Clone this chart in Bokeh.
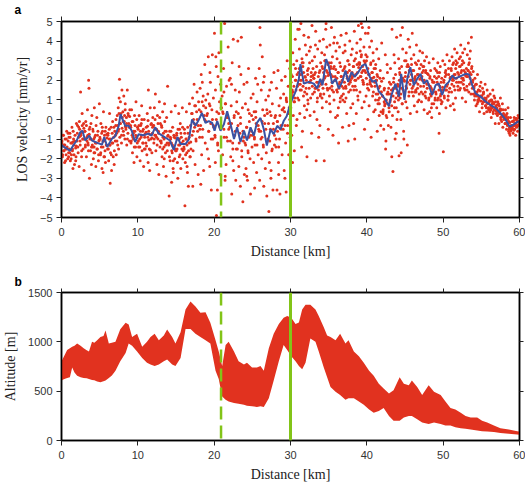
from bokeh.plotting import figure
from bokeh.layouts import column
from bokeh.models import Span, LinearAxis, FixedTicker, ColumnDataSource
from bokeh.embed import file_html
from bokeh.resources import INLINE

# ---------------- data ----------------
dist_ticks = [0, 10, 20, 30, 40, 50, 60]
vel_ticks = [-5, -4, -3, -2, -1, 0, 1, 2, 3, 4, 5]
alt_ticks = [0, 500, 1000, 1500]
fault_dashed_km = 20.9
fault_solid_km = 30.0
panel_labels = ["a", "b"]

# LOS velocity scatter (km, mm/yr) - wide scatter
los_km = [
    0.05,0.12,0.2,0.28,0.33,0.41,0.47,0.55,0.6,0.68,0.74,0.81,0.88,0.93,0.97,0.15,
    1.03,1.1,1.16,1.22,1.3,1.37,1.43,1.5,1.58,1.64,1.7,1.77,1.85,1.9,1.96,1.48,
    2.04,2.1,2.18,2.25,2.31,2.38,2.45,2.5,2.57,2.63,2.7,2.77,2.83,2.9,2.95,2.42,
    3.05,3.12,3.18,3.26,3.32,3.4,3.47,3.55,3.6,3.66,3.72,3.8,3.86,3.92,3.98,3.63,3.5,
    4.04,4.1,4.17,4.23,4.3,4.36,4.44,4.5,4.58,4.63,4.7,4.77,4.84,4.9,4.96,4.27,
    5.03,5.1,5.16,5.22,5.3,5.37,5.42,5.5,5.56,5.63,5.7,5.76,5.82,5.9,5.95,5.45,
    6.04,6.1,6.18,6.25,6.3,6.38,6.42,6.5,6.56,6.62,6.7,6.78,6.83,6.9,6.97,6.35,
    7.04,7.1,7.17,7.22,7.3,7.36,7.43,7.5,7.55,7.6,7.66,7.72,7.8,7.86,7.92,7.97,7.48,
    8.04,8.1,8.16,8.23,8.3,8.35,8.42,8.5,8.55,8.62,8.7,8.76,8.82,8.9,8.95,8.38,
    9.05,9.1,9.18,9.25,9.3,9.36,9.43,9.5,9.57,9.62,9.7,9.76,9.83,9.88,9.95,9.4,
    10.04,10.1,10.17,10.24,10.3,10.37,10.44,10.5,10.56,10.63,10.7,10.76,10.83,10.9,10.96,10.45,
    11.05,11.1,11.18,11.23,11.3,11.38,11.42,11.5,11.55,11.62,11.7,11.77,11.84,11.9,11.96,11.35,
    12.04,12.1,12.17,12.24,12.3,12.36,12.42,12.5,12.57,12.63,12.7,12.75,12.82,12.9,12.95,12.45,
    13.05,13.1,13.17,13.25,13.3,13.36,13.43,13.5,13.56,13.62,13.7,13.77,13.84,13.9,13.96,13.46,
    14.04,14.1,14.16,14.23,14.3,14.37,14.43,14.5,14.56,14.62,14.7,14.76,14.83,14.9,14.95,14.4,14.65,
    15.04,15.1,15.18,15.24,15.3,15.36,15.43,15.5,15.56,15.63,15.7,15.77,15.83,15.9,15.95,15.46,
    16.04,16.1,16.17,16.22,16.3,16.36,16.42,16.5,16.57,16.62,16.7,16.76,16.83,16.9,16.96,16.45,
    17.04,17.1,17.17,17.24,17.3,17.37,17.44,17.5,17.56,17.63,17.7,17.76,17.83,17.9,17.96,17.4,17.2,
    18.04,18.1,18.16,18.23,18.3,18.36,18.42,18.5,18.56,18.62,18.7,18.77,18.83,18.9,18.95,18.45,18.25,
    19.04,19.1,19.17,19.23,19.3,19.36,19.42,19.5,19.56,19.63,19.7,19.76,19.83,19.9,19.96,19.45,19.27,
    20.04,20.1,20.17,20.22,20.3,20.35,20.42,20.5,20.56,20.62,20.7,20.76,20.83,20.9,20.96,20.45,20.27,20.15,
    21.04,21.1,21.17,21.23,21.3,21.37,21.43,21.5,21.56,21.62,21.7,21.76,21.83,21.9,21.96,21.45,21.28,
    22.04,22.1,22.17,22.23,22.3,22.36,22.43,22.5,22.56,22.63,22.7,22.76,22.83,22.9,22.96,22.45,22.27,
    23.04,23.1,23.17,23.23,23.3,23.36,23.43,23.5,23.56,23.62,23.7,23.76,23.83,23.9,23.96,23.45,23.27,
    24.04,24.1,24.17,24.23,24.3,24.36,24.43,24.5,24.56,24.62,24.7,24.76,24.83,24.9,24.96,24.45,24.27,
    25.04,25.1,25.17,25.23,25.3,25.36,25.43,25.5,25.56,25.62,25.7,25.76,25.83,25.9,25.96,25.45,25.27,
    26.04,26.1,26.17,26.23,26.3,26.36,26.43,26.5,26.56,26.62,26.7,26.76,26.83,26.9,26.96,26.45,26.27,26.0,
    27.04,27.1,27.17,27.23,27.3,27.36,27.43,27.5,27.56,27.62,27.7,27.76,27.83,27.9,27.96,27.45,27.27,
    28.04,28.1,28.17,28.23,28.3,28.36,28.43,28.5,28.56,28.62,28.7,28.76,28.83,28.9,28.96,28.45,28.27,
    29.04,29.1,29.17,29.23,29.3,29.36,29.43,29.5,29.56,29.62,29.7,29.76,29.83,29.9,29.96,29.45,29.27,
    30.04,30.1,30.16,30.22,30.3,30.36,30.42,30.5,30.56,30.62,30.7,30.76,30.82,30.9,30.95,30.46,30.27,30.66,30.13,30.85,
    31.04,31.1,31.16,31.22,31.3,31.36,31.42,31.5,31.56,31.62,31.7,31.76,31.82,31.9,31.95,31.46,31.27,31.66,31.13,31.85,
    32.04,32.1,32.16,32.22,32.3,32.36,32.42,32.5,32.56,32.62,32.7,32.76,32.82,32.9,32.95,32.46,32.27,32.66,32.13,32.85,
    33.04,33.1,33.16,33.22,33.3,33.36,33.42,33.5,33.56,33.62,33.7,33.76,33.82,33.9,33.95,33.46,33.27,33.66,33.13,33.85,
    34.04,34.1,34.16,34.22,34.3,34.36,34.42,34.5,34.56,34.62,34.7,34.76,34.82,34.9,34.95,34.46,34.27,34.66,34.13,34.85,
    35.04,35.1,35.16,35.22,35.3,35.36,35.42,35.5,35.56,35.62,35.7,35.76,35.82,35.9,35.95,35.46,35.27,35.66,35.13,35.85,
    36.04,36.1,36.16,36.22,36.3,36.36,36.42,36.5,36.56,36.62,36.7,36.76,36.82,36.9,36.95,36.46,36.27,36.66,36.13,36.85,
    37.04,37.1,37.16,37.22,37.3,37.36,37.42,37.5,37.56,37.62,37.7,37.76,37.82,37.9,37.95,37.46,37.27,37.66,37.13,37.85,
    38.04,38.1,38.16,38.22,38.3,38.36,38.42,38.5,38.56,38.62,38.7,38.76,38.82,38.9,38.95,38.46,38.27,38.66,38.13,38.85,
    39.04,39.1,39.16,39.22,39.3,39.36,39.42,39.5,39.56,39.62,39.7,39.76,39.82,39.9,39.95,39.46,39.27,39.66,39.13,39.85,
    40.04,40.1,40.16,40.22,40.3,40.36,40.42,40.5,40.56,40.62,40.7,40.76,40.82,40.9,40.95,40.46,40.27,40.66,40.13,40.85,
    41.04,41.1,41.16,41.22,41.3,41.36,41.42,41.5,41.56,41.62,41.7,41.76,41.82,41.9,41.95,41.46,41.27,41.66,41.13,41.85,
    42.04,42.1,42.16,42.22,42.3,42.36,42.42,42.5,42.56,42.62,42.7,42.76,42.82,42.9,42.95,42.46,42.27,42.66,42.13,42.85,
    43.04,43.1,43.16,43.22,43.3,43.36,43.42,43.5,43.56,43.62,43.7,43.76,43.82,43.9,43.95,43.46,43.27,43.66,43.13,43.85,
    44.04,44.1,44.16,44.22,44.3,44.36,44.42,44.5,44.56,44.62,44.7,44.76,44.82,44.9,44.95,44.46,44.27,44.66,44.13,44.85,
    45.04,45.1,45.16,45.22,45.3,45.36,45.42,45.5,45.56,45.62,45.7,45.76,45.82,45.9,45.95,45.46,45.27,45.66,45.13,45.85,
    46.04,46.1,46.16,46.22,46.3,46.36,46.42,46.5,46.56,46.62,46.7,46.76,46.82,46.9,46.95,46.46,46.27,46.66,
    47.04,47.1,47.16,47.22,47.3,47.36,47.42,47.5,47.56,47.62,47.7,47.76,47.82,47.9,47.95,47.46,47.27,47.66,
    48.04,48.1,48.16,48.22,48.3,48.36,48.42,48.5,48.56,48.62,48.7,48.76,48.82,48.9,48.95,48.46,48.27,48.66,
    49.04,49.1,49.16,49.22,49.3,49.36,49.42,49.5,49.56,49.62,49.7,49.76,49.82,49.9,49.95,49.46,49.27,49.66,
    50.02,50.1,50.16,50.22,50.3,50.36,50.42,50.5,50.56,50.62,50.7,50.76,50.82,50.9,50.95,50.46,50.27,50.66,
    51.04,51.1,51.16,51.22,51.3,51.36,51.42,51.5,51.56,51.62,51.7,51.76,51.82,51.9,51.95,51.46,51.27,51.66,
    52.04,52.1,52.16,52.22,52.3,52.36,52.42,52.5,52.56,52.62,52.7,52.76,52.82,52.9,52.95,52.46,52.27,52.66,
    53.04,53.1,53.16,53.22,53.3,53.36,53.42,53.5,53.56,53.62,53.7,53.76,53.82,53.9,53.95,53.46,53.27,53.66,
    54.04,54.1,54.16,54.22,54.3,54.36,54.42,54.5,54.56,54.62,54.7,54.76,54.82,54.9,54.95,54.46,54.27,54.66,
    55.04,55.1,55.16,55.22,55.3,55.36,55.42,55.5,55.56,55.62,55.7,55.76,55.82,55.9,55.95,55.46,55.27,55.66,
    56.04,56.1,56.16,56.22,56.3,56.36,56.42,56.5,56.56,56.62,56.7,56.76,56.82,56.9,56.95,56.46,56.27,56.66,
    57.04,57.1,57.16,57.22,57.3,57.36,57.42,57.5,57.56,57.62,57.7,57.76,57.82,57.9,57.95,57.46,57.27,57.66,
    58.04,58.1,58.16,58.22,58.3,58.36,58.42,58.5,58.56,58.62,58.7,58.76,58.82,58.9,58.95,58.46,58.27,58.66,
    59.04,59.1,59.16,59.22,59.3,59.36,59.42,59.5,59.56,59.62,59.7,59.76,59.82,59.9,59.95,59.46,59.27,59.66,
]
los_vel = [
    -1.2,-1.9,-0.8,-1.6,-1.3,-2.2,-1.0,-1.5,-1.8,-0.6,-1.4,-2.0,-1.1,-1.7,-0.9,-1.35,
    -1.5,-0.7,-2.1,-1.2,-1.8,-0.4,-1.6,-2.5,-1.0,-1.3,-2.3,-0.8,-1.45,-1.9,-0.2,-1.15,
    -1.1,-0.3,-1.7,-0.9,-2.4,-0.5,-1.3,1.4,-0.7,-1.9,0.3,-1.0,-1.5,-0.2,-2.6,-0.85,
    -0.6,-1.4,-0.1,-1.9,-0.9,0.5,-1.2,2.0,1.6,-3.0,-0.4,-1.6,-1.0,-2.3,0.2,-0.75,-1.3,
    -1.3,-0.5,-2.0,-1.0,0.6,-1.7,-0.8,-2.4,-1.2,0.1,-1.5,-0.6,-2.1,-1.1,0.8,-1.4,
    -0.9,-1.8,-0.2,-1.4,-2.5,-0.6,-1.1,0.4,-1.9,-0.8,-1.6,-2.2,-0.4,-1.3,-0.95,-2.7,
    -1.5,-0.7,-2.1,-1.0,0.3,-3.25,-1.7,-0.4,-2.6,-1.2,-0.1,-1.9,-0.9,-2.3,-0.6,-1.3,
    -1.1,-0.3,-1.8,-0.7,0.2,-1.3,0.6,-0.5,1.1,2.05,-0.2,0.9,0.3,-0.8,1.5,0.1,-1.5,
    0.4,-0.6,1.2,-0.1,-1.0,0.8,-0.4,0.1,-1.3,1.5,-0.7,0.2,-0.2,-1.1,0.5,-0.35,
    -0.3,-1.2,0.5,-0.8,-1.7,-0.1,-1.0,-2.2,0.2,-0.6,-1.4,0.9,-0.9,-1.9,-0.4,-0.7,
    -0.5,-1.4,0.2,-1.0,-2.1,-0.3,-0.8,0.7,-1.6,-0.6,-1.2,-2.4,0.0,-0.9,-1.5,-0.2,
    -1.2,-0.4,-1.8,0.3,-0.9,1.5,-0.6,-1.5,-2.6,0.6,-1.0,-0.2,-1.7,-0.7,0.1,-2.2,
    -0.3,-1.2,0.6,-0.8,1.3,-1.6,-0.5,-2.3,0.2,-1.0,-0.6,-2.8,0.9,-1.4,-0.2,-0.9,
    -1.1,-0.3,-1.9,0.4,-0.9,-2.4,-1.4,0.8,-0.6,-1.7,-2.9,0.1,-1.2,1.7,-0.8,-2.0,
    -1.3,-3.9,-0.6,-2.1,-1.0,0.4,-3.2,-1.7,-0.4,-2.5,-1.4,-0.9,-2.0,0.7,-1.6,-1.2,-2.7,
    -1.6,-0.7,-2.2,-3.0,-1.0,0.3,-1.9,-1.3,-0.2,-2.5,-0.9,-1.5,0.6,-2.0,-1.1,-0.5,
    -1.4,-0.5,-4.4,-2.2,-1.0,0.4,-1.7,-2.7,-0.7,-3.4,-1.2,0.8,-1.9,-0.3,-1.5,-2.4,
    0.3,-0.8,1.1,-1.6,0.0,1.8,-0.4,-2.3,0.7,-1.1,0.4,1.4,-0.6,-2.8,0.9,-0.2,-3.4,
    0.5,-0.9,1.6,-0.3,2.3,-1.8,0.9,-0.5,1.2,-2.6,0.2,2.8,-1.2,0.6,-0.1,1.9,-3.3,
    0.2,-1.5,1.3,3.2,-0.6,0.8,-2.4,1.9,-0.2,-3.6,0.5,3.3,-1.0,1.1,-0.4,2.4,-2.0,
    4.4,-0.8,1.5,3.2,-4.9,0.4,-3.6,2.2,-1.6,3.4,0.9,-2.8,1.8,-0.3,0.6,-1.2,2.7,-2.2,
    1.2,-1.8,0.3,2.6,-0.9,4.9,-3.1,0.8,-2.3,1.7,0.1,-1.1,3.7,-0.5,2.0,-2.9,1.4,
    -0.4,2.1,-1.9,0.7,-3.8,2.9,-1.2,4.1,-2.6,0.2,-0.8,1.5,-3.1,-1.5,0.9,-2.1,1.8,
    -1.5,4.0,0.3,-2.4,1.4,-0.7,-3.4,2.3,4.2,-1.9,0.6,-4.2,-1.1,1.8,-2.8,-0.2,2.7,
    -1.2,0.8,-2.5,-0.4,1.9,-3.1,-1.6,2.6,-0.9,0.3,-2.0,-3.8,1.1,-0.6,-1.4,0.5,-2.9,
    -0.8,1.3,-2.2,0.4,-3.5,-1.3,2.1,-0.2,-2.7,0.9,1.8,-1.8,-0.5,2.6,-3.1,0.1,-1.0,
    3.8,-0.6,1.5,-2.0,3.2,0.5,-1.3,-3.4,2.2,-0.2,-2.5,1.0,-1.7,-3.9,0.3,1.9,-0.9,4.7,
    -1.0,1.2,-4.7,-2.2,0.4,-0.5,-3.0,1.9,-1.6,0.8,-3.6,-0.2,2.4,-1.3,0.1,-2.6,1.5,
    0.2,-1.4,1.6,-3.6,-0.6,2.5,-2.2,0.7,-1.0,-3.8,1.1,-0.3,2.0,-1.8,0.5,-2.8,-0.1,
    -0.5,1.3,-2.6,0.4,2.2,-1.2,-3.7,0.9,3.0,-0.3,1.7,-1.8,0.6,2.6,-0.9,1.1,-3.0,
    0.6,2.3,-0.8,1.5,3.4,0.2,2.8,-1.6,1.1,4.1,2.0,-0.3,3.0,1.7,4.6,0.9,-2.2,2.6,1.3,0.0,
    2.4,1.0,3.6,0.3,2.0,4.9,1.5,3.1,-0.6,2.7,1.2,4.3,0.7,2.2,3.8,-1.4,1.8,2.9,4.6,0.1,
    1.6,3.3,-1.9,2.5,0.8,4.2,1.9,2.9,0.2,3.7,2.2,-0.7,4.8,1.3,2.6,3.5,1.0,2.0,0.5,3.0,
    2.1,0.4,3.2,1.6,4.5,-2.1,2.7,0.9,3.6,1.9,-0.9,2.4,4.0,1.2,2.9,0.0,3.8,1.5,2.3,-0.3,
    1.8,3.4,0.6,2.6,4.1,1.3,-2.1,3.0,2.2,4.6,0.9,3.7,1.6,2.8,-0.5,3.3,2.0,4.9,1.1,2.4,
    2.9,1.2,3.8,0.4,2.3,4.7,1.7,3.2,-0.8,2.6,1.0,4.2,2.0,0.1,3.5,1.5,2.7,3.9,0.8,2.2,
    1.5,3.1,0.2,2.4,-1.2,1.8,3.7,0.9,2.7,4.3,1.2,2.0,-0.4,3.4,1.6,2.9,0.6,2.2,3.9,1.0,
    2.6,0.9,3.5,1.7,4.4,0.3,2.2,3.0,-1.1,1.4,2.8,4.0,1.9,0.6,3.3,2.4,1.1,-0.3,3.8,2.0,
    2.1,3.6,0.8,2.7,1.5,4.5,-1.0,3.1,2.0,0.3,3.9,2.4,1.2,4.8,2.9,1.7,-0.2,3.4,2.2,1.0,
    2.8,1.4,4.1,2.2,3.3,0.6,4.7,2.5,1.8,3.7,-0.5,2.9,4.4,1.2,3.0,2.0,4.9,0.9,3.5,2.4,
    3.2,1.6,4.4,2.3,0.7,3.7,1.9,2.8,-0.9,4.0,2.1,1.2,3.4,0.4,2.6,1.8,4.7,2.4,0.0,3.0,
    1.9,0.5,2.8,1.3,3.6,-0.6,2.2,1.0,3.1,0.2,1.7,2.5,-0.3,1.4,3.9,0.8,2.0,1.1,2.6,0.4,
    1.2,0.3,2.1,-0.5,1.6,0.8,3.3,-1.1,1.0,0.1,2.4,1.4,-0.3,0.6,1.9,-1.5,0.9,2.8,0.4,1.3,
    0.9,2.6,-0.4,1.5,4.6,0.2,-2.65,1.9,3.3,0.6,-1.0,2.3,1.1,4.2,0.0,1.6,-1.9,2.9,1.3,-0.7,
    1.8,0.4,3.1,-1.85,2.4,1.1,4.3,-1.7,2.7,0.8,3.6,1.5,-0.6,2.0,3.0,0.0,2.6,4.7,1.2,-1.0,
    2.2,0.9,3.4,1.6,-1.3,2.8,4.1,1.2,2.5,3.7,0.3,2.0,3.1,1.4,4.4,2.7,0.6,1.8,3.0,2.3,
    2.5,1.2,3.3,0.7,2.0,2.9,1.5,3.8,0.4,2.3,1.8,3.0,1.0,2.6,3.5,1.4,2.1,0.9,
    1.7,2.8,0.9,2.2,3.4,1.3,2.5,0.5,3.0,1.9,2.4,1.1,3.2,1.6,0.3,2.7,2.0,1.4,
    2.3,1.0,2.9,0.4,1.7,2.5,1.2,0.1,2.0,1.5,3.1,0.8,1.9,2.6,1.1,0.6,2.2,1.4,
    1.4,2.5,0.6,1.9,2.9,1.1,2.2,0.3,1.7,2.7,1.3,0.8,2.1,1.5,3.0,-0.7,2.4,1.0,
    -1.65,2.0,1.1,2.8,1.5,0.6,2.3,3.3,1.8,1.0,2.6,1.4,3.0,2.1,0.7,1.7,2.4,1.2,
    2.6,1.4,3.2,2.0,0.8,2.9,1.7,3.6,2.3,1.1,2.8,1.9,3.4,2.4,1.5,0.5,2.1,3.0,
    2.3,3.1,1.5,2.7,3.8,1.9,2.5,1.1,3.4,2.1,2.9,1.6,3.6,2.4,0.9,2.8,3.2,2.0,
    2.6,1.7,3.3,2.2,3.9,1.4,2.9,2.4,3.5,1.9,4.2,2.7,1.6,2.0,1.3,3.1,2.5,2.3,
    1.6,1.0,2.1,1.3,0.7,1.8,1.2,2.3,0.9,1.5,1.1,0.4,1.7,1.2,1.9,0.8,1.4,1.0,
    1.2,0.6,1.6,0.9,1.4,0.3,1.1,1.8,0.7,1.0,0.4,1.5,0.8,1.2,0.5,0.95,1.3,0.6,
    0.9,0.4,1.3,0.7,0.1,1.0,0.6,1.5,0.3,0.8,0.5,1.1,-0.2,0.7,0.3,0.9,0.5,1.2,
    0.6,0.2,0.9,0.4,-0.2,0.7,0.3,1.1,0.0,0.5,0.2,0.8,-0.4,0.3,0.1,0.55,0.45,-0.1,
    0.2,-0.2,0.5,0.0,-0.5,0.3,-0.3,0.6,-0.6,-0.1,-0.4,-0.8,0.1,-0.5,-0.3,-0.2,0.1,-0.7,
    -0.4,-0.1,-0.7,-0.3,0.1,-0.5,-0.2,-0.8,0.0,-0.4,-0.1,-0.6,0.2,-0.3,-0.1,-0.25,-0.55,0.05,
]

# LOS velocity scatter (km, mm/yr) - dense core close to the running mean
core_km = [
    0.07,0.14,0.26,0.34,0.44,0.53,0.64,0.72,0.86,0.93,
    1.07,1.14,1.26,1.34,1.44,1.53,1.64,1.72,1.86,1.93,
    2.07,2.14,2.26,2.34,2.44,2.53,2.64,2.72,2.86,2.93,
    3.07,3.14,3.26,3.34,3.44,3.53,3.64,3.72,3.86,3.93,
    4.07,4.14,4.26,4.34,4.44,4.53,4.64,4.72,4.86,4.93,
    5.07,5.14,5.26,5.34,5.44,5.53,5.64,5.72,5.86,5.93,
    6.07,6.14,6.26,6.34,6.44,6.53,6.64,6.72,6.86,6.93,
    7.07,7.14,7.26,7.34,7.44,7.53,7.64,7.72,7.86,7.93,
    8.07,8.14,8.26,8.34,8.44,8.53,8.64,8.72,8.86,8.93,
    9.07,9.14,9.26,9.34,9.44,9.53,9.64,9.72,9.86,9.93,
    10.07,10.14,10.26,10.34,10.44,10.53,10.64,10.72,10.86,10.93,
    11.07,11.14,11.26,11.34,11.44,11.53,11.64,11.72,11.86,11.93,
    12.07,12.14,12.26,12.34,12.44,12.53,12.64,12.72,12.86,12.93,
    13.07,13.14,13.26,13.34,13.44,13.53,13.64,13.72,13.86,13.93,
    14.07,14.14,14.26,14.34,14.44,14.53,14.64,14.72,14.86,14.93,
    15.07,15.14,15.26,15.34,15.44,15.53,15.64,15.72,15.86,15.93,
    16.07,16.14,16.26,16.34,16.44,16.53,16.64,16.72,16.86,16.93,
    17.12,17.28,17.45,17.61,17.77,17.9,
    18.12,18.28,18.45,18.61,18.77,18.9,
    19.12,19.28,19.45,19.61,19.77,19.9,
    20.12,20.28,20.45,20.61,20.77,20.9,
    21.12,21.28,21.45,21.61,21.77,21.9,
    22.12,22.28,22.45,22.61,22.77,22.9,
    23.12,23.28,23.45,23.61,23.77,23.9,
    24.12,24.28,24.45,24.61,24.77,24.9,
    25.12,25.28,25.45,25.61,25.77,25.9,
    26.12,26.28,26.45,26.61,26.77,26.9,
    27.12,27.28,27.45,27.61,27.77,27.9,
    28.12,28.28,28.45,28.61,28.77,28.9,
    29.12,29.28,29.45,29.61,29.77,29.9,
    30.07,30.14,30.26,30.34,30.44,30.53,30.64,30.72,30.86,30.93,
    31.07,31.14,31.26,31.34,31.44,31.53,31.64,31.72,31.86,31.93,
    32.07,32.14,32.26,32.34,32.44,32.53,32.64,32.72,32.86,32.93,
    33.07,33.14,33.26,33.34,33.44,33.53,33.64,33.72,33.86,33.93,
    34.07,34.14,34.26,34.34,34.44,34.53,34.64,34.72,34.86,34.93,
    35.07,35.14,35.26,35.34,35.44,35.53,35.64,35.72,35.86,35.93,
    36.07,36.14,36.26,36.34,36.44,36.53,36.64,36.72,36.86,36.93,
    37.07,37.14,37.26,37.34,37.44,37.53,37.64,37.72,37.86,37.93,
    38.07,38.14,38.26,38.34,38.44,38.53,38.64,38.72,38.86,38.93,
    39.07,39.14,39.26,39.34,39.44,39.53,39.64,39.72,39.86,39.93,
    40.07,40.14,40.26,40.34,40.44,40.53,40.64,40.72,40.86,40.93,
    41.07,41.14,41.26,41.34,41.44,41.53,41.64,41.72,41.86,41.93,
    42.07,42.14,42.26,42.34,42.44,42.53,42.64,42.72,42.86,42.93,
    43.07,43.14,43.26,43.34,43.44,43.53,43.64,43.72,43.86,43.93,
    44.07,44.14,44.26,44.34,44.44,44.53,44.64,44.72,44.86,44.93,
    45.07,45.14,45.26,45.34,45.44,45.53,45.64,45.72,45.86,45.93,
    46.07,46.14,46.26,46.34,46.44,46.53,46.64,46.72,46.86,46.93,
    47.07,47.14,47.26,47.34,47.44,47.53,47.64,47.72,47.86,47.93,
    48.07,48.14,48.26,48.34,48.44,48.53,48.64,48.72,48.86,48.93,
    49.07,49.14,49.26,49.34,49.44,49.53,49.64,49.72,49.86,49.93,
    50.07,50.14,50.26,50.34,50.44,50.53,50.64,50.72,50.86,50.93,
    51.07,51.14,51.26,51.34,51.44,51.53,51.64,51.72,51.86,51.93,
    52.07,52.14,52.26,52.34,52.44,52.53,52.64,52.72,52.86,52.93,
    53.07,53.14,53.26,53.34,53.44,53.53,53.64,53.72,53.86,53.93,
    54.07,54.14,54.26,54.34,54.44,54.53,54.64,54.72,54.86,54.93,
    55.07,55.14,55.26,55.34,55.44,55.53,55.64,55.72,55.86,55.93,
    56.07,56.14,56.26,56.34,56.44,56.53,56.64,56.72,56.86,56.93,
    57.07,57.14,57.26,57.34,57.44,57.53,57.64,57.72,57.86,57.93,
    58.07,58.14,58.26,58.34,58.44,58.53,58.64,58.72,58.86,58.93,
    59.07,59.14,59.26,59.34,59.44,59.53,59.64,59.72,59.86,59.93,
]
core_vel = [
    -1.1,-1.8,-0.8,-1.6,-1.3,-2.1,-1.0,-1.5,-0.7,-1.9,
    -1.7,-0.9,-2.0,-1.2,-1.5,-0.6,-1.8,-1.1,-2.1,-1.35,
    -0.7,-1.4,-0.4,-0.1,-1.1,-0.8,-1.6,-0.3,-1.0,-0.45,
    -0.6,-1.3,-0.3,-1.1,-0.8,-1.6,-0.5,-1.0,-0.2,-1.4,
    -1.4,-0.6,-1.7,-0.9,-1.2,-0.3,-1.5,-0.8,-1.8,-1.05,
    -1.0,-1.7,-0.7,-0.4,-1.4,-1.1,-1.9,-0.6,-1.3,-0.75,
    -0.8,-1.5,-0.5,-1.3,-1.0,-1.8,-0.7,-1.2,-0.4,-1.6,
    -0.8,0.0,-1.1,-0.3,-0.6,0.3,-0.9,-0.2,-1.2,-0.45,
    -0.1,-0.8,0.2,0.5,-0.5,-0.2,-1.0,0.3,-0.4,0.15,
    -0.4,-1.1,-0.1,-0.9,-0.6,-1.4,-0.3,-0.8,0.0,-1.2,
    -1.1,-0.3,-1.4,-0.6,-0.9,0.0,-1.2,-0.5,-1.5,-0.75,
    -0.65,-1.35,-0.35,-0.05,-1.05,-0.75,-1.55,-0.25,-0.95,-0.4,
    -0.3,-1.0,0.0,-0.8,-0.5,-1.3,-0.2,-0.7,0.1,-1.1,
    -1.2,-0.4,-1.5,-0.7,-1.0,-0.1,-1.3,-0.6,-1.6,-0.85,
    -1.2,-1.9,-0.9,-0.6,-1.6,-1.3,-2.1,-0.8,-1.5,-0.95,
    -0.8,-1.5,-0.5,-1.3,-1.0,-1.8,-0.7,-1.2,-0.4,-1.6,
    -1.5,-0.7,-1.8,-1.0,-1.3,-0.4,-1.6,-0.9,-1.9,-1.15,
    0.3,-0.6,0.7,-1.0,0.0,-0.3,
    -0.5,0.4,-0.9,0.7,0.0,1.0,
    0.3,-0.6,0.7,-1.0,0.0,-0.3,
    -0.9,0.0,-1.3,0.3,-0.4,0.6,
    0.4,-0.5,0.8,-0.9,0.1,-0.2,
    -1.1,-0.2,-1.5,0.1,-0.6,0.4,
    -0.3,-1.2,0.1,-1.6,-0.6,-0.9,
    -1.3,-0.4,-1.7,-0.1,-0.8,0.2,
    0.0,-0.9,0.4,-1.3,-0.3,-0.6,
    -1.0,-0.1,-1.4,0.2,-0.5,0.5,
    -0.2,-1.1,0.2,-1.5,-0.5,-0.8,
    -1.0,-0.1,-1.4,0.2,-0.5,0.5,
    0.6,-0.3,1.0,-0.7,0.3,0.0,
    1.9,1.2,2.2,1.4,1.7,0.9,2.0,1.5,2.3,1.1,
    1.8,2.6,1.5,2.3,2.0,2.9,1.7,2.4,1.4,2.15,
    2.0,1.3,2.3,2.6,1.6,1.9,1.1,2.4,1.7,2.25,
    2.1,1.4,2.4,1.6,1.9,1.1,2.2,1.7,2.5,1.3,
    1.9,2.7,1.6,2.4,2.1,3.0,1.8,2.5,1.5,2.25,
    2.3,1.6,2.6,2.9,1.9,2.2,1.4,2.7,2.0,2.55,
    2.1,1.4,2.4,1.6,1.9,1.1,2.2,1.7,2.5,1.3,
    1.9,2.7,1.6,2.4,2.1,3.0,1.8,2.5,1.5,2.25,
    2.4,1.7,2.7,3.0,2.0,2.3,1.5,2.8,2.1,2.65,
    2.9,2.2,3.2,2.4,2.7,1.9,3.0,2.5,3.3,2.1,
    1.8,2.6,1.5,2.3,2.0,2.9,1.7,2.4,1.4,2.15,
    1.7,1.0,2.0,2.3,1.3,1.6,0.8,2.1,1.4,1.95,
    1.2,0.5,1.5,0.7,1.0,0.2,1.3,0.8,1.6,0.4,
    1.0,1.8,0.7,1.5,1.2,2.1,0.9,1.6,0.6,1.35,
    1.7,1.0,2.0,2.3,1.3,1.6,0.8,2.1,1.4,1.95,
    2.4,1.7,2.7,1.9,2.2,1.4,2.5,2.0,2.8,1.6,
    1.7,2.5,1.4,2.2,1.9,2.8,1.6,2.3,1.3,2.05,
    2.1,1.4,2.4,2.7,1.7,2.0,1.2,2.5,1.8,2.35,
    1.8,1.1,2.1,1.3,1.6,0.8,1.9,1.4,2.2,1.0,
    1.3,2.1,1.0,1.8,1.5,2.4,1.2,1.9,0.9,1.65,
    1.9,1.2,2.2,2.5,1.5,1.8,1.0,2.3,1.6,2.15,
    2.5,1.8,2.8,2.0,2.3,1.5,2.6,2.1,2.9,1.7,
    1.9,2.7,1.6,2.4,2.1,3.0,1.8,2.5,1.5,2.25,
    2.2,1.5,2.5,2.8,1.8,2.1,1.3,2.6,1.9,2.45,
    1.7,1.2,1.8,1.3,1.4,1.0,1.5,1.15,1.45,0.95,
    1.2,0.8,1.35,0.9,1.0,0.7,1.1,0.85,1.2,0.6,
    0.95,0.55,1.0,0.6,0.8,0.4,0.85,0.5,0.9,0.45,
    0.75,0.35,0.8,0.3,0.45,0.1,0.5,0.15,0.5,0.0,
    0.2,-0.2,0.2,-0.2,0.0,0.1,-0.5,-0.15,-0.6,-0.3,
    -0.1,-0.5,-0.05,-0.3,-0.2,0.05,-0.35,-0.1,-0.25,0.1,
]

# running mean of LOS velocity
mean_km = [0.0,0.3,0.7,1.13,1.57,2.0,2.45,2.75,3.1,3.63,4.0,4.6,5.3,5.6,6.0,6.6,7.0,7.5,7.73,8.0,
           8.35,8.8,9.2,9.65,10.1,10.7,11.4,11.8,12.27,12.7,13.4,13.8,14.2,14.7,15.2,15.6,16.25,16.7,
           17.1,17.56,18.0,18.4,18.86,19.3,19.74,20.05,20.4,20.83,21.27,21.7,22.1,22.6,23.0,23.45,23.9,
           24.3,24.76,25.2,25.6,26.07,26.5,26.9,27.4,27.8,28.26,28.7,29.1,29.5,30.0,30.66,31.1,31.3,
           31.75,32.4,33.05,33.5,33.9,34.2,34.67,35.0,35.46,35.9,36.33,36.77,37.2,37.55,38.0,38.4,38.9,
           39.4,39.83,40.3,40.7,41.14,41.57,42.0,42.45,42.9,43.23,43.75,44.2,44.5,44.93,45.3,45.7,46.15,
           46.6,47.03,47.46,47.9,48.56,49.0,49.43,49.87,50.3,50.74,51.2,51.6,52.05,52.5,52.93,53.4,53.8,
           54.24,54.9,55.55,56.2,56.86,57.5,58.17,58.73,59.25,59.9]
mean_vel = [-1.3,-1.4,-1.48,-1.6,-1.3,-1.07,-0.65,-0.57,-1.07,-0.82,-1.07,-1.18,-1.28,-0.9,-1.4,-0.98,-0.87,-0.32,0.27,0.0,
            -0.32,-0.32,-0.57,-1.15,-0.75,-0.8,-0.72,-0.82,-0.4,-0.7,-0.87,-0.97,-1.07,-1.55,-0.9,-1.25,-1.25,-1.0,
            0.0,-0.32,0.0,0.33,-0.17,-0.08,-0.17,-0.57,-0.08,-0.57,-0.25,0.42,-0.17,-1.0,-0.4,-1.15,-0.57,
            -1.07,-0.4,-0.82,-0.17,0.08,-0.5,-1.33,-0.5,-0.75,-0.32,-0.5,-0.08,0.17,0.83,1.42,2.08,2.83,
            1.83,1.92,1.83,1.58,2.08,1.75,3.08,2.75,1.83,2.08,1.58,1.92,2.5,1.92,2.42,2.17,2.42,
            2.75,2.83,2.25,1.92,2.0,1.42,1.25,1.0,0.67,1.25,1.83,1.17,2.33,1.0,2.08,2.67,1.75,
            2.08,2.33,1.83,2.0,1.25,1.75,1.83,1.25,1.75,1.92,2.25,2.08,2.17,2.25,2.33,2.3,1.75,
            1.33,1.17,0.92,0.75,0.58,0.33,0.0,-0.37,-0.25,-0.08]

# altitude envelope (km, m)
alt_km = [0.0,0.3,0.74,1.1,1.4,1.7,2.05,2.5,2.9,3.3,3.6,4.0,4.3,4.67,5.1,5.5,5.77,6.2,6.6,7.07,7.7,8.4,8.8,
          9.25,9.9,10.57,11.2,11.66,12.2,12.75,13.4,13.84,14.5,14.93,15.6,16.25,16.9,17.55,18.2,18.87,19.5,
          20.18,20.6,21.05,21.5,21.9,22.6,23.2,23.9,24.3,24.96,25.6,26.07,26.5,27.16,27.8,28.47,29.1,29.57,
          30.1,30.66,31.1,31.53,31.97,32.6,33.27,33.7,34.36,34.8,35.24,35.9,36.5,37.2,37.6,38.3,38.96,39.6,
          40.3,40.9,41.57,42.2,42.9,43.5,44.3,44.85,45.5,45.9,46.6,47.25,48.1,48.8,49.67,50.3,50.96,51.6,
          52.3,52.93,53.6,54.46,55.1,55.77,56.65,57.5,58.6,59.7,60.0]
alt_high = [804,850,918,935,951,960,984,960,935,915,902,1000,990,1016,1049,1060,1114,984,990,1000,1127,1193,1176,
            1049,1082,951,1000,1049,1082,1016,1065,1124,1049,984,1098,1327,1408,1359,1294,1300,1193,
            1016,902,755,967,1000,902,804,771,788,739,739,755,706,935,1082,1180,1245,1261,
            1245,1180,1196,1327,1376,1376,1327,1261,1147,1065,1049,1016,1082,984,1016,902,853,788,
            706,657,575,526,477,510,641,575,559,608,543,461,559,494,461,396,330,314,
            281,249,232,232,200,183,151,124,111,95,92]
alt_low = [608,620,634,640,739,690,657,640,634,630,624,614,610,598,591,600,608,634,660,706,804,886,984,
           961,902,837,788,771,755,771,804,820,771,755,837,1131,1131,1082,1049,1016,984,
           706,624,445,412,396,379,373,363,353,347,340,347,340,428,608,804,967,918,
           853,804,755,722,788,1033,1000,902,739,641,543,494,461,412,428,428,396,363,
           314,281,298,330,249,200,200,232,249,249,216,183,167,183,167,151,151,134,
           124,118,111,101,95,92,85,75,69,62,59]

# ---------------- style ----------------
RED = "#e1321f"
BLUE = "#3a52a3"
GREEN = "#82c418"
TICK_FONT = "Liberation Sans"
TITLE_FONT = "Liberation Serif"


def style(p, yticks, ylabel, panel, overrides=None):
    p.grid.visible = False
    p.outline_line_color = "black"
    p.outline_line_width = 1.5
    p.background_fill_color = "white"
    p.border_fill_color = "white"
    for ax in (p.xaxis[0], p.yaxis[0]):
        ax.axis_line_color = "black"
        ax.axis_line_width = 1.5
        ax.major_tick_line_color = "#222"
        ax.major_tick_in = 0
        ax.major_tick_out = 5
        ax.minor_tick_line_color = None
        ax.major_label_text_font = TICK_FONT
        ax.major_label_text_font_size = "11px"
        ax.major_label_text_color = "#333"
        ax.axis_label_text_font = TITLE_FONT
        ax.axis_label_text_font_style = "normal"
        ax.axis_label_text_font_size = "14px"
        ax.axis_label_text_color = "#222"
    p.xaxis[0].ticker = FixedTicker(ticks=dist_ticks)
    p.yaxis[0].ticker = FixedTicker(ticks=yticks)
    p.xaxis[0].axis_label = "Distance [km]"
    p.yaxis[0].axis_label = ylabel
    p.yaxis[0].major_label_standoff = 4
    p.yaxis[0].axis_label_standoff = 7
    if overrides:
        p.yaxis[0].major_label_overrides = overrides
    # mirrored ticks on top / right, without labels
    top = LinearAxis(ticker=FixedTicker(ticks=dist_ticks), major_label_text_color=None,
                     major_label_text_font_size="1px",
                     axis_line_color="black", axis_line_width=1.5, major_tick_in=0, major_tick_out=5,
                     minor_tick_line_color=None, major_tick_line_color="#222", major_label_standoff=0)
    right = LinearAxis(ticker=FixedTicker(ticks=yticks), major_label_text_color=None,
                       major_label_text_font_size="1px",
                       axis_line_color="black", axis_line_width=1.5, major_tick_in=0, major_tick_out=4,
                       minor_tick_line_color=None, major_tick_line_color="#222", major_label_standoff=0)
    p.add_layout(top, "above")
    p.add_layout(right, "right")
    # panel letter as the (outermost) title
    p.title.text = panel
    p.title.align = "left"
    p.title.offset = -47
    p.title.standoff = 0
    p.title.text_font = TICK_FONT
    p.title.text_font_style = "bold"
    p.title.text_font_size = "12px"
    p.title.text_color = "black"


# ---------------- panel a ----------------
p1 = figure(width=525, height=272, x_range=(0, 60), y_range=(-5, 5),
            output_backend="svg", toolbar_location=None, title=panel_labels[0],
            min_border_left=61, min_border_right=6, min_border_top=17, min_border_bottom=55)
minus = {v: (("\u2212" + str(abs(v))) if v < 0 else str(v)) for v in vel_ticks}
style(p1, vel_ticks, "LOS velocity [mm/yr]", panel_labels[0], minus)
p1.xaxis[0].major_label_standoff = 5
p1.xaxis[0].axis_label_standoff = 8

n1 = min(len(los_km), len(los_vel))
n2 = min(len(core_km), len(core_vel))
src_pts = ColumnDataSource(dict(x=los_km[:n1] + core_km[:n2], y=los_vel[:n1] + core_vel[:n2]))
p1.scatter("x", "y", source=src_pts, size=3.0, color=RED, line_color=None)
p1.line(mean_km, mean_vel, line_color=BLUE, line_width=2)
p1.add_layout(Span(location=fault_dashed_km, dimension="height", line_color=GREEN,
                   line_width=2.5, line_dash="13 6"))
p1.add_layout(Span(location=fault_solid_km, dimension="height", line_color=GREEN, line_width=3))

# ---------------- panel b ----------------
p2 = figure(width=525, height=212, x_range=(0, 60), y_range=(0, 1500),
            output_backend="svg", toolbar_location=None, title=panel_labels[1],
            min_border_left=61, min_border_right=6, min_border_top=17, min_border_bottom=42)
style(p2, alt_ticks, "Altitude [m]", panel_labels[1])
p2.xaxis[0].major_tick_out = 4
p2.xaxis[0].major_label_standoff = 4
p2.xaxis[0].axis_label_standoff = 5
p2.varea(x=alt_km, y1=alt_low, y2=alt_high, fill_color=RED)
p2.add_layout(Span(location=fault_dashed_km, dimension="height", line_color=GREEN,
                   line_width=2.5, line_dash="13 6"))
p2.add_layout(Span(location=fault_solid_km, dimension="height", line_color=GREEN, line_width=3))

layout = column(p1, p2, spacing=0)
open("out.html", "w").write(file_html(layout, INLINE))
